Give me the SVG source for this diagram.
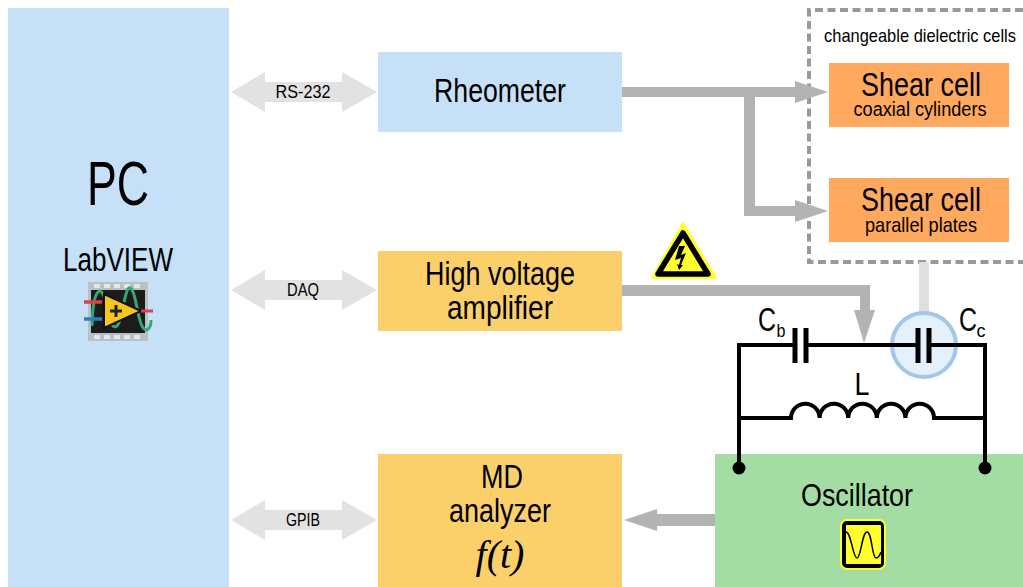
<svg xmlns="http://www.w3.org/2000/svg" width="1023" height="587" viewBox="0 0 1023 587">
<style>
text{font-family:"Liberation Sans",Arial,sans-serif;fill:#000;text-anchor:middle}
.blue{fill:#c5e0f7}.yel{fill:#fbd06b}.org{fill:#fea95e}.grn{fill:#a3dda4}
.pipe{fill:#b3b3b3}.bi{fill:#e2e2e2}
.w{fill:none;stroke:#000;stroke-width:4}
.plate{fill:none;stroke:#000;stroke-width:5}
.t34{font-size:34px}.t21{font-size:21px}.t18{font-size:18px}
</style>
<rect width="1023" height="587" fill="#fff"/>
<g id="pc">
<rect class="blue" x="8" y="8" width="221" height="579"/>
<text font-size="63" transform="translate(118 205) scale(.708 1)">PC</text>
<text class="t34" transform="translate(118 271) scale(.766 1)">LabVIEW</text>
<g id="labview-icon">
<rect x="88" y="282" width="60" height="59" fill="#b9c0c4"/>
<g fill="#e4e8ea"><rect x="94" y="284" width="6" height="4"/><rect x="104" y="284" width="6" height="4"/><rect x="114" y="284" width="6" height="4"/><rect x="124" y="284" width="6" height="4"/><rect x="134" y="284" width="6" height="4"/><rect x="94" y="335" width="6" height="4"/><rect x="104" y="335" width="6" height="4"/><rect x="114" y="335" width="6" height="4"/><rect x="124" y="335" width="6" height="4"/><rect x="134" y="335" width="6" height="4"/></g>
<rect x="91" y="290" width="54" height="43" fill="#1c1c1c"/>
<path d="M92 326C93 284 103 284 106 305S117 338 122 312S129 284 133 292S139 332 147 330Q151 328 151 320" fill="none" stroke="#35a775" stroke-width="3"/>
<path d="M104 294V328L141 311Z" fill="#f7c61a" stroke="#111" stroke-width="2"/>
<path d="M110 311H122M116 305V317" stroke="#222" stroke-width="3" fill="none"/>
<path d="M84 302H102" stroke="#d8434b" stroke-width="3.500"/>
<path d="M84 319H102" stroke="#2f7dbc" stroke-width="3.500"/>
<path d="M141 311H153" stroke="#d8434b" stroke-width="3"/>
</g>
</g>
<g id="rheometer"><rect class="blue" x="378" y="52" width="244" height="80"/><text class="t34" transform="translate(500 102) scale(.785 1)">Rheometer</text></g>
<g id="hv-amplifier"><rect class="yel" x="378" y="251" width="244" height="80"/><text class="t34" transform="translate(500 285) scale(.794 1)">High voltage</text><text class="t34" transform="translate(500 319) scale(.825 1)">amplifier</text></g>
<g id="md-analyzer"><rect class="yel" x="378" y="454" width="244" height="133"/><text class="t34" transform="translate(502 488) scale(.794 1)">MD</text><text class="t34" transform="translate(500 522) scale(.794 1)">analyzer</text><text x="500" y="568" font-size="40" font-style="italic" style="font-family:'Liberation Serif',serif">f(t)</text></g>
<g id="dielectric-cells">
<path d="M1023 10H809V262H1023" fill="none" stroke="#999" stroke-width="4" stroke-dasharray="8 4.500"/>
<text class="t18" transform="translate(920 42) scale(.914 1)">changeable dielectric cells</text>
</g>
<g id="shear-coaxial"><rect class="org" x="829" y="63" width="180" height="64"/><text class="t34" transform="translate(921 96) scale(.794 1)">Shear cell</text><text class="t21" transform="translate(920 116) scale(.864 1)">coaxial cylinders</text></g>
<g id="shear-parallel"><rect class="org" x="829" y="178" width="180" height="64"/><text class="t34" transform="translate(921 211) scale(.794 1)">Shear cell</text><text class="t21" transform="translate(921 232) scale(.865 1)">parallel plates</text></g>
<g id="oscillator"><rect class="grn" x="715" y="454" width="308" height="133"/><text font-size="32" transform="translate(857 506) scale(.84 1)">Oscillator</text>
<rect x="841" y="520" width="44" height="49" rx="6" fill="#000" stroke="#ffff33" stroke-width="2"/>
<rect x="846" y="525" width="35" height="39" fill="#ffff2e"/>
<path d="M846 532C851 532 853 558 857 558S862 532 867 532S872 558 876 558Q879 558 881 552" fill="none" stroke="#000" stroke-width="1.500"/>
</g>
<g id="connectors">
<g class="bi">
<path d="M231 92L265 72V82H342V72L377 92L342 112V102H265V112Z"/>
<path d="M231 290L265 270V280H342V270L377 290L342 310V300H265V310Z"/>
<path d="M231 520L265 500V510H342V500L377 520L342 540V530H265V540Z"/>
</g>
<g class="pipe">
<path d="M622 87H795V81L828 92L795 103V97H755V206H795V200L828 211L795 222V216H744V97H622Z"/>
<path d="M622 285H870V310H875L864 343L854 310H860V296H622Z"/>
<path d="M715 514V526H657V531L624 520L657 509V514Z"/>
</g>
<rect x="919" y="262" width="10" height="50" fill="#e0e0e0"/>
</g>
<g id="labels-protocol">
<text class="t18" transform="translate(303 98) scale(.9 1)">RS-232</text>
<text class="t18" transform="translate(303 296) scale(.82 1)">DAQ</text>
<text class="t18" transform="translate(303 526) scale(.79 1)">GPIB</text>
</g>
<g id="warning">
<path d="M683 223L716 278H652Z" fill="#ffff2e" stroke="#ffff2e" stroke-width="2" stroke-linejoin="round"/>
<path d="M683 233L708 274H658Z" fill="#ffff2e" stroke="#000" stroke-width="5.500" stroke-linejoin="round"/>
<path d="M679 246H685L681 255L686 253L681 265L683 265L679 270L677 264L679 265L681 258L675 260Z" fill="#000"/>
</g>
<g id="circuit">
<circle cx="924" cy="345" r="32" fill="#e4f1fb" stroke="#a0c8ec" stroke-width="4"/>
<path class="w" d="M739 468V345H795M806 345H918M929 345H985V468"/>
<path class="plate" d="M795 328V363M806 328V363M918 328V363M929 328V363"/>
<path class="w" d="M739 418H791A14.300 14.300 0 0 1 819.600 418A14.300 14.300 0 0 1 848.200 418A14.300 14.300 0 0 1 876.800 418A14.300 14.300 0 0 1 905.400 418A14.300 14.300 0 0 1 934 418H985"/>
<circle cx="739" cy="468" r="6.500"/><circle cx="985" cy="468" r="6.500"/>
<text font-size="33" transform="translate(767 331) scale(.756 1)">C</text><text font-size="19" transform="translate(781 337) scale(.85 1)">b</text>
<text font-size="33" transform="translate(968 331) scale(.756 1)">C</text><text font-size="19" transform="translate(981 337) scale(.95 1)">c</text>
<text font-size="32" transform="translate(862 395) scale(.84 1)">L</text>
</g>
</svg>
